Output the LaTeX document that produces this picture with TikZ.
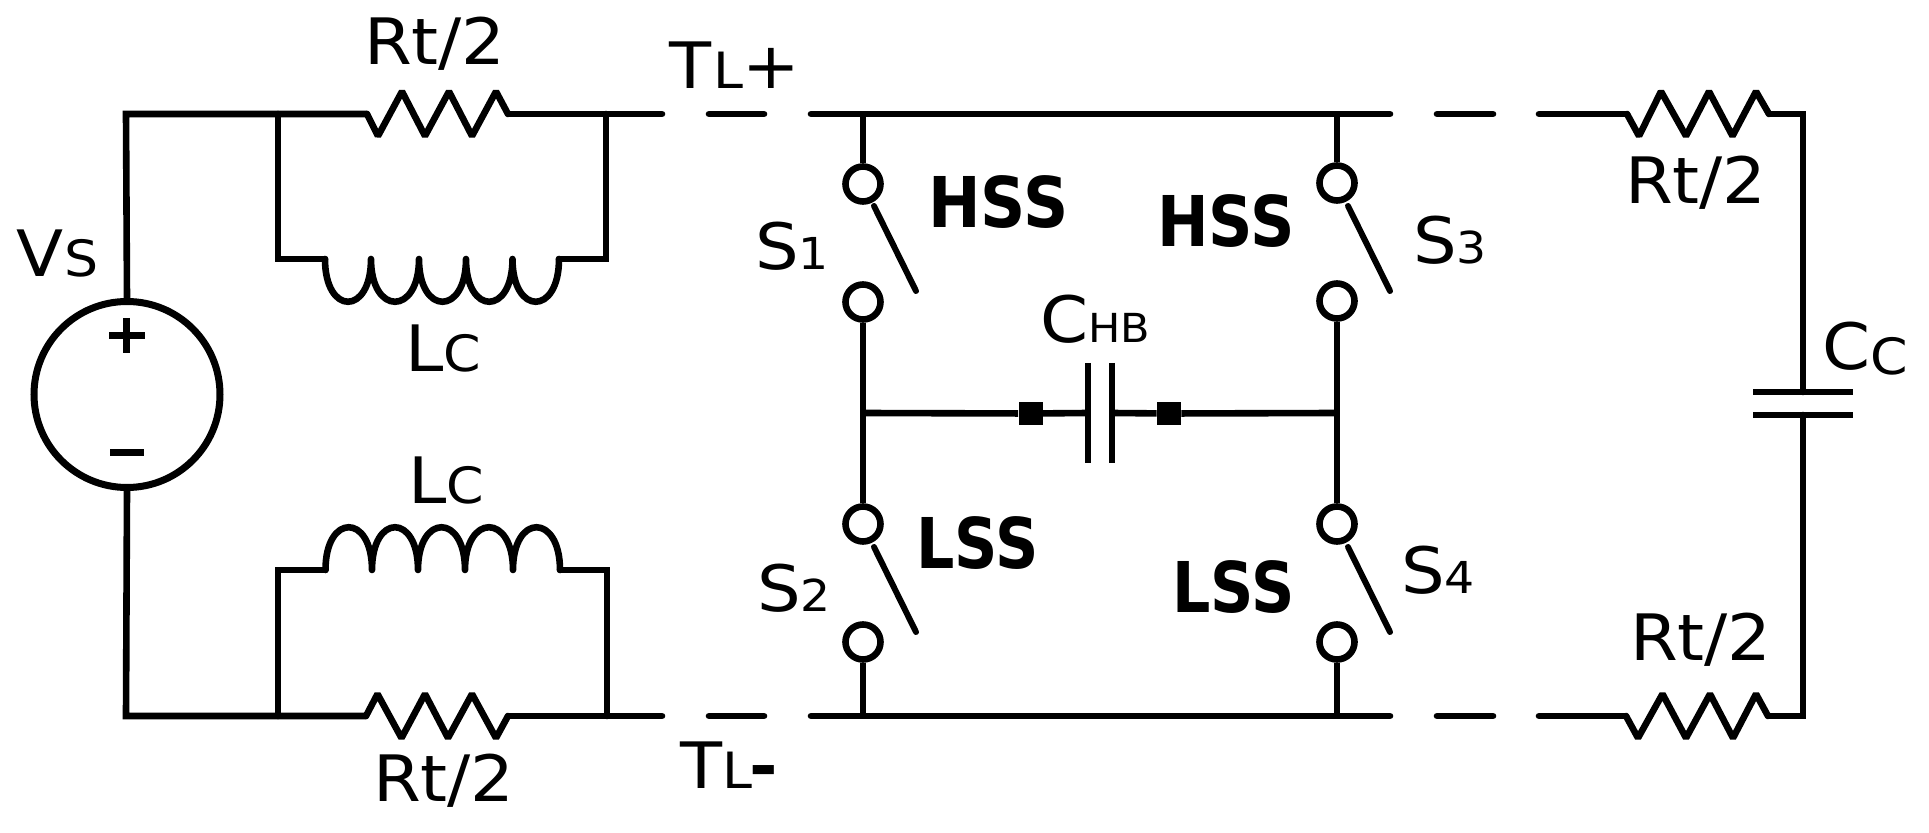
\documentclass[tikz,border=0pt]{standalone}
\usepackage{fontspec}
\usepackage{graphicx}
\setmainfont{DejaVu Sans}[FakeStretch=1.075]
\newcommand{\fbig}{\fontsize{32}{36}\selectfont}
\newcommand{\fsm}{\fontsize{25}{30}\selectfont}
\newcommand{\fdig}{\fontsize{22}{28}\selectfont}
\newcommand{\fhb}{\fontsize{20}{24}\selectfont}
\newcommand{\fbold}{\fontsize{35}{40}\selectfont\bfseries}
\tikzset{
  wire/.style={line width=3.3pt,line cap=round,line join=miter,black},
  plate/.style={line width=3pt,line cap=butt,black},
  zig/.style={line width=3.3pt,line cap=round,line join=bevel,black},
  coil/.style={line width=3.3pt,line cap=round,line join=round,black},
  blade/.style={line width=3pt,line cap=round,black},
  terminal/.style={circle,draw,line width=3.3pt,inner sep=0pt,minimum size=17.5pt,fill=none},
  source/.style={circle,draw,line width=3.5pt,inner sep=0pt,minimum size=93pt,fill=none},
  pad/.style={rectangle,fill=black,inner sep=0pt,minimum width=12pt,minimum height=11.5pt},
  lbl/.style={anchor=base west,inner sep=0pt,outer sep=0pt,font=\fbig},
  hsslbl/.style={anchor=base west,inner sep=0pt,outer sep=0pt,font=\fbold}
}
\begin{document}
\begin{tikzpicture}[x=.5pt,y=-.5pt]
\path[use as bounding box,fill=white] (0,0) rectangle (1929,833);

% named points
\coordinate (tl) at (126,114);
\coordinate (ja) at (278,114);
\coordinate (ra) at (367,114);
\coordinate (rb) at (508,114);
\coordinate (jb) at (606,114);
\coordinate (ea) at (662,114);
\coordinate (da) at (709,114);
\coordinate (db) at (764,114);
\coordinate (ba) at (811,114);
\coordinate (bb) at (1390,114);
\coordinate (dc) at (1437,114);
\coordinate (dd) at (1493,114);
\coordinate (ra2) at (1539,114);
\coordinate (rc) at (1627,114);
\coordinate (rd) at (1769,114);
\coordinate (tr) at (1803,114);
\coordinate (la) at (278,259);
\coordinate (lb) at (325,259);
\coordinate (lc) at (559,259);
\coordinate (ld) at (606,259);

\coordinate (bl) at (126,716);
\coordinate (jc) at (278,716);
\coordinate (rg) at (366,716);
\coordinate (rh) at (508,716);
\coordinate (jd) at (607,716);
\coordinate (eb) at (662,716);
\coordinate (de) at (709,716);
\coordinate (df) at (764,716);
\coordinate (bc) at (811,716);
\coordinate (bd) at (1390,716);
\coordinate (dg) at (1437,716);
\coordinate (dh) at (1493,716);
\coordinate (ri) at (1539,716);
\coordinate (rj) at (1626,716);
\coordinate (rk) at (1768,716);
\coordinate (br) at (1803,716);
\coordinate (le) at (278,570);
\coordinate (lf) at (325.5,570);
\coordinate (lg) at (560,570);
\coordinate (lh) at (607,570);

% source
\node[source] (vs) at (127,394.5) {};
\draw[line width=3.5pt,black] (109,336) -- (145,336);
\draw[line width=3.2pt,black] (126.5,318) -- (126.5,353);
\draw[line width=3.5pt,black] (110,453) -- (144,453);

% left frame
\draw[wire] (vs.north) -- (tl) -- (ja) -- (ra);
\draw[wire] (rb) -- (jb) -- (ea);
\draw[wire] (da) -- (db);
\draw[wire] (ba) -- (bb);
\draw[wire] (dc) -- (dd);
\draw[wire] (ra2) -- (rc);
\draw[wire] (ja) -- (la) -- (lb);
\draw[wire] (jb) -- (ld) -- (lc);
\draw[wire] (vs.south) -- (bl) -- (jc) -- (rg);
\draw[wire] (rh) -- (jd) -- (eb);
\draw[wire] (de) -- (df);
\draw[wire] (bc) -- (bd);
\draw[wire] (dg) -- (dh);
\draw[wire] (ri) -- (rj);
\draw[wire] (jc) -- (le) -- (lf);
\draw[wire] (jd) -- (lh) -- (lg);

% resistors
\draw[zig] (ra) -- (378,136) -- (402,91.5) -- (425,136) -- (449,91.5) -- (472,136) -- (496,91.5) -- (rb);
\draw[zig] (rg) -- (377.5,694) -- (401.5,738) -- (425,694) -- (448,738) -- (472,694) -- (496,738) -- (rh);
\draw[zig] (rc) -- (1639,136) -- (1661,91.5) -- (1686,136) -- (1709,91.5) -- (1732.5,136) -- (1756,91.5) -- (rd);
\draw[zig] (rj) -- (1638,738) -- (1662.5,694) -- (1686,738) -- (1710,694) -- (1733,738) -- (1756,694) -- (rk);

% inductors
\draw[coil] (lb) .. controls (325,316) and (371,316) .. (371,259)
  .. controls (371,316) and (419,316) .. (419,259)
  .. controls (419,316) and (466,316) .. (466,259)
  .. controls (466,316) and (512.5,316) .. (512.5,259)
  .. controls (512.5,316) and (559,316) .. (lc);
\draw[coil] (lf) .. controls (325.5,513) and (372,513) .. (372,570)
  .. controls (372,513) and (418,513) .. (418,570)
  .. controls (418,513) and (465,513) .. (465,570)
  .. controls (465,513) and (513,513) .. (513,570)
  .. controls (513,513) and (560,513) .. (lg);

% switches
\node[terminal] (s1a) at (863,184) {};
\node[terminal] (s1b) at (863,302) {};
\node[terminal] (s2a) at (863,524) {};
\node[terminal] (s2b) at (863,642) {};
\node[terminal] (s3a) at (1337,183) {};
\node[terminal] (s3b) at (1337,301) {};
\node[terminal] (s4a) at (1337,524) {};
\node[terminal] (s4b) at (1337,642) {};
\coordinate (bt1) at (863,114);
\coordinate (bt2) at (1337,114);
\coordinate (bb1) at (863,716);
\coordinate (bb2) at (1337,716);
\coordinate (mid1) at (863,413);
\coordinate (mid2) at (1337,413);
\draw[wire,line cap=butt] (bt1) -- (s1a.north);
\draw[wire,line cap=butt] (s1b.south) -- (s2a.north);
\draw[wire,line cap=butt] (s2b.south) -- (bb1);
\draw[wire,line cap=butt] (bt2) -- (s3a.north);
\draw[wire,line cap=butt] (s3b.south) -- (s4a.north);
\draw[wire,line cap=butt] (s4b.south) -- (bb2);
\draw[blade] (874,206) -- (916,291);
\draw[blade] (1348,206) -- (1390,291);
\draw[blade] (874,547) -- (916,632);
\draw[blade] (1348,547) -- (1390,632);

% half bridge capacitor
\coordinate (pa) at (1088,413);
\coordinate (pb) at (1112,413);
\node[pad] (qa) at (1030.5,413.5) {};
\node[pad] (qb) at (1169,413.5) {};
\draw[wire,line cap=butt] (mid1) -- (qa) -- (pa);
\draw[wire,line cap=butt] (pb) -- (qb) -- (mid2);
\draw[plate] (1088,363) -- (1088,463);
\draw[plate] (1112,363) -- (1112,463);

% coupling capacitor
\coordinate (ca) at (1803,392);
\coordinate (cb) at (1803,415);
\draw[wire] (rd) -- (tr) -- (ca);
\draw[wire] (cb) -- (br) -- (rk);
\draw[plate,line width=3.2pt] (1753,392) -- (1853,392);
\draw[plate,line width=3.2pt] (1753,415) -- (1853,415);

% labels
\node[lbl] (t1) at (364,65) {Rt/2};
\node[lbl] (t2) at (373,802) {Rt/2};
\node[lbl] (t3) at (1625,204) {Rt/2};
\node[lbl] (t4) at (1630,661) {Rt/2};
\node[lbl] (t5) at (669,89) {T\kern1pt{\fsm L}+};
\node[lbl] (t6) at (680,789) {T{\fsm L}\kern-1pt{\bfseries -}};
\node[lbl] (t7) at (17,277) {V{\fsm S}};
\node[lbl] (t8) at (405,372) {L{\fsm C}};
\node[lbl] (t9) at (408,504) {L{\fsm C}};
\node[lbl] (t10) at (755,270) {S{\fdig 1}};
\node[lbl] (t11) at (757,612) {S{\fdig 2}};
\node[lbl] (t12) at (1413,264) {S{\fdig 3}};
\node[lbl] (t13) at (1401,594) {S{\fdig 4}};
\node[lbl] (t14) at (1040,343) {C{\fhb HB}};
\node[lbl] (t15) at (1822,370) {C\raisebox{-2.5pt}{\fsm C}};
\node[hsslbl] (t16) at (928,228) {\scalebox{.835}[1]{HSS}};
\node[hsslbl] (t17) at (1157,247) {\scalebox{.82}[1]{HSS}};
\node[hsslbl] (t18) at (916,569) {\scalebox{.80}[1]{LSS}};
\node[hsslbl] (t19) at (1172.5,613) {\scalebox{.80}[1]{LSS}};
\end{tikzpicture}
\end{document}
